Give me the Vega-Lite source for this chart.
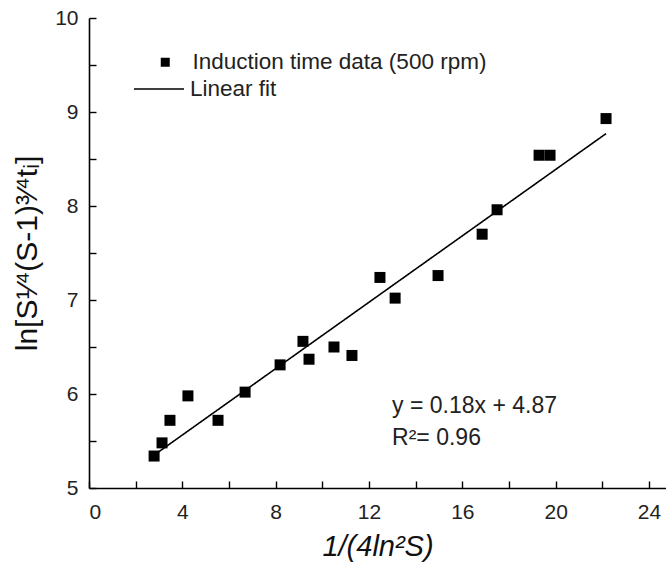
{
  "$schema": "https://vega.github.io/schema/vega-lite/v6.json",
  "width": 577,
  "height": 470,
  "autosize": "none",
  "padding": {"left": 89, "top": 18, "right": 0, "bottom": 76},
  "background": "white",
  "config": {
    "view": {"stroke": null},
    "font": "Liberation Sans",
    "axis": {
      "grid": false,
      "domainColor": "black",
      "domainWidth": 1.6,
      "tickColor": "black",
      "tickWidth": 1.4,
      "labelFont": "Liberation Sans",
      "labelFontSize": 21,
      "labelColor": "#222",
      "titleFont": "Liberation Sans",
      "titleColor": "#111",
      "titleFontWeight": "normal"
    },
    "legend": {
      "labelFont": "Liberation Sans",
      "labelFontSize": 22.5,
      "labelColor": "#222",
      "labelLimit": 0
    }
  },
  "datasets": {
    "pts": [
      {"x": 2.79, "y": 5.34},
      {"x": 3.13, "y": 5.48},
      {"x": 3.47, "y": 5.72},
      {"x": 4.24, "y": 5.98},
      {"x": 5.53, "y": 5.72},
      {"x": 6.69, "y": 6.02},
      {"x": 8.19, "y": 6.31},
      {"x": 9.17, "y": 6.56},
      {"x": 9.43, "y": 6.37},
      {"x": 10.5, "y": 6.5},
      {"x": 11.27, "y": 6.41},
      {"x": 12.47, "y": 7.24},
      {"x": 13.12, "y": 7.02},
      {"x": 14.96, "y": 7.26},
      {"x": 16.85, "y": 7.7},
      {"x": 17.49, "y": 7.96},
      {"x": 19.29, "y": 8.54},
      {"x": 19.76, "y": 8.54},
      {"x": 22.16, "y": 8.93}
    ],
    "fit": [
      {"x": 2.79, "y": 5.35},
      {"x": 22.16, "y": 8.77}
    ],
    "notes": [
      {"x": 12.99, "y": 5.87, "t": "y = 0.18x + 4.87"},
      {"x": 12.99, "y": 5.53, "t": "R²= 0.96"}
    ]
  },
  "layer": [
    {
      "data": {"name": "pts"},
      "mark": {"type": "point", "filled": true, "shape": "square", "color": "black", "opacity": 1, "size": 121},
      "encoding": {
        "x": {
          "field": "x", "type": "quantitative",
          "scale": {"domain": [0, 24.73], "nice": false, "zero": false},
          "axis": {
            "values": [0, 2, 4, 6, 8, 10, 12, 14, 16, 18, 20, 22, 24],
            "format": "~g",
            "labelExpr": "datum.value % 4 === 0 ? datum.label : ''",
            "tickSize": -7,
            "labelPadding": 20,
            "title": "1/(4ln²S)",
            "titleFontSize": 29,
            "titleFontStyle": "italic",
            "titlePadding": 10
          }
        },
        "y": {
          "field": "y", "type": "quantitative",
          "scale": {"domain": [5, 10], "nice": false, "zero": false},
          "axis": {
            "values": [5, 5.5, 6, 6.5, 7, 7.5, 8, 8.5, 9, 9.5, 10],
            "format": "~g",
            "labelExpr": "datum.value % 1 === 0 ? datum.label : ''",
            "tickSize": -7,
            "labelPadding": 18,
            "title": "ln[S¹⁄⁴(S-1)³⁄⁴tᵢ]",
            "titleFontSize": 30,
            "titlePadding": 12
          }
        },
        "shape": {
          "datum": "Induction time data (500 rpm)",
          "scale": {"range": ["square"]},
          "legend": {
            "title": null,
            "orient": "none",
            "legendX": 65,
            "legendY": 33,
            "symbolSize": 81,
            "symbolFillColor": "black",
            "symbolStrokeColor": "black",
            "symbolStrokeWidth": 0,
            "labelOffset": 16
          }
        }
      }
    },
    {
      "data": {"name": "fit"},
      "mark": {"type": "line", "color": "black", "strokeWidth": 1.6},
      "encoding": {
        "x": {"field": "x", "type": "quantitative"},
        "y": {"field": "y", "type": "quantitative"},
        "strokeDash": {
          "datum": "Linear fit",
          "scale": {"range": [[1, 0]]},
          "legend": {
            "title": null,
            "orient": "none",
            "legendX": 44,
            "legendY": 45,
            "symbolType": "stroke",
            "symbolSize": 2500,
            "symbolStrokeColor": "black",
            "symbolStrokeWidth": 1.4,
            "labelOffset": 5
          }
        }
      }
    },
    {
      "mark": {"type": "rule", "color": "black", "strokeWidth": 1.6},
      "encoding": {"y": {"datum": 10}}
    },
    {
      "data": {"name": "notes"},
      "mark": {"type": "text", "align": "left", "baseline": "middle", "fontSize": 23, "color": "#222", "font": "Liberation Sans"},
      "encoding": {
        "x": {"field": "x", "type": "quantitative"},
        "y": {"field": "y", "type": "quantitative"},
        "text": {"field": "t"}
      }
    }
  ]
}
